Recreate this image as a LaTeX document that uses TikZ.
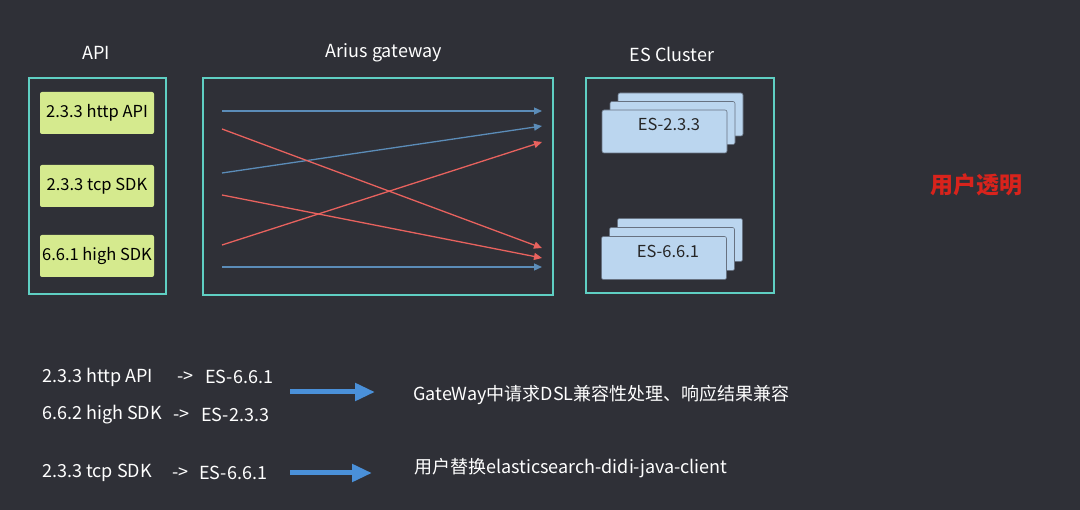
\documentclass[tikz,border=0pt]{standalone}
\usepackage{fontspec}
\setmainfont{Noto Sans CJK SC}
\usetikzlibrary{arrows.meta}
\definecolor{bg}{HTML}{2F3037}
\definecolor{frame}{HTML}{5FCFC3}
\definecolor{apigreen}{HTML}{D5EA8E}
\definecolor{esblue}{HTML}{BBD6EF}
\definecolor{lineblue}{HTML}{5B8CB8}
\definecolor{linered}{HTML}{E8625E}
\definecolor{bigblue}{HTML}{4A90D9}
\definecolor{transred}{HTML}{D8231C}
\tikzset{
  frm/.style={draw=frame, line width=1.3pt},
  apibox/.style={fill=apigreen, rounded corners=2pt, minimum width=114pt, minimum height=42pt, inner sep=0pt, font=\fontsize{16.5}{18}\selectfont, text=black},
  esbox/.style={fill=esblue, draw=bg!60!esblue, line width=0.6pt, rounded corners=2pt, minimum width=125pt, minimum height=43pt, inner sep=0pt},
  estext/.style={font=\fontsize{16.5}{18}\selectfont, text=black!85},
  title/.style={font=\fontsize{18}{20}\selectfont, text=white},
  wtext/.style={font=\fontsize{18}{20}\selectfont, text=white, anchor=west, inner sep=0pt},
  gl/.style={line width=1.3pt, -{Triangle[length=8pt,width=7pt]}},
  big/.style={draw=bigblue, line width=5pt, -{Triangle[length=20pt,width=17pt]}},
}
\begin{document}
\begin{tikzpicture}[x=1pt,y=-1pt]
\fill[bg] (0,0) rectangle (1080,510);
\useasboundingbox (0,0) rectangle (1080,510);

% titles
\node[title] (tapi) at (96,53) {API};
\node[title] (tgw) at (384,53) {Arius gateway};
\node[title] (tes) at (672,54) {ES Cluster};

% frames
\draw[frm] (29,78) rectangle (166,294);
\draw[frm] (203,78) rectangle (553,295);
\draw[frm] (586,78) rectangle (774,293);

% API boxes
\node[apibox] (a1) at (97,113) {2.3.3 http API};
\node[apibox] (a2) at (97,186) {2.3.3 tcp SDK};
\node[apibox] (a3) at (97,256) {6.6.1 high SDK};

% ES boxes (stacked)
\node[esbox] (e1c) at (680.5,114.5) {};
\node[esbox] (e1b) at (672.5,123) {};
\node[esbox] (e1) at (664.5,131.5) {};
\node[estext] (l1) at (669,124) {ES-2.3.3};
\node[esbox] (e2c) at (680,240) {};
\node[esbox] (e2b) at (672,249) {};
\node[esbox] (e2) at (664,258) {};
\node[estext] (l2) at (668,251) {ES-6.6.1};

% gateway routing lines
\coordinate (s1) at (222,111); \coordinate (t1) at (542,111);
\coordinate (s2) at (222,173); \coordinate (t2) at (542,126);
\coordinate (s3) at (222,129); \coordinate (t3) at (542,248);
\coordinate (s4) at (222,195); \coordinate (t4) at (542,258);
\coordinate (s5) at (222,245); \coordinate (t5) at (542,142);
\coordinate (s6) at (222,267); \coordinate (t6) at (542,267);
\draw[gl, lineblue] (s1) -- (t1);
\draw[gl, lineblue] (s2) -- (t2);
\draw[gl, linered] (s3) -- (t3);
\draw[gl, linered] (s4) -- (t4);
\draw[gl, linered] (s5) -- (t5);
\draw[gl, lineblue] (s6) -- (t6);

% transparent label
\node[font=\fontsize{23}{25}\selectfont\bfseries, text=transred] (tr) at (976,185) {用户透明};

% bottom texts
\node[wtext] (b1) at (42,377) {2.3.3 http API};
\node[wtext] (b1a) at (177,377) {->};
\node[wtext] (b1b) at (205,377) {ES-6.6.1};
\node[wtext] (b2) at (42,415) {6.6.2 high SDK};
\node[wtext] (b2a) at (173,415) {->};
\node[wtext] (b2b) at (201,415) {ES-2.3.3};
\node[wtext] (b3) at (42,473) {2.3.3 tcp SDK};
\node[wtext] (b3a) at (172,473) {->};
\node[wtext] (b3b) at (199,473) {ES-6.6.1};

\coordinate (p1) at (290,392); \coordinate (q1) at (375,392);
\coordinate (p2) at (290,473); \coordinate (q2) at (372,473);
\draw[big] (p1) -- (q1);
\draw[big] (p2) -- (q2);

\node[wtext] (r1) at (413,395) {GateWay中请求DSL兼容性处理、响应结果兼容};
\node[wtext] (r2) at (414,468) {用户替换elasticsearch-didi-java-client};
\end{tikzpicture}
\end{document}
